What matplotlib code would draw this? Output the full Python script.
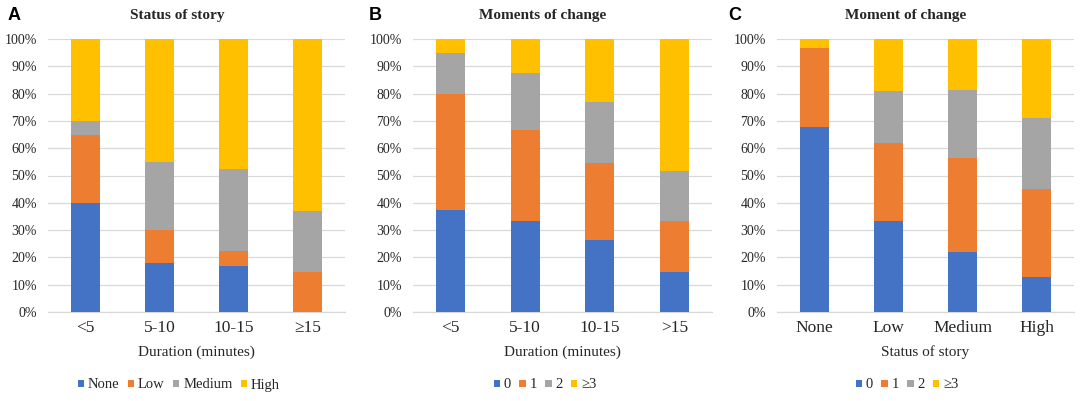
import matplotlib
matplotlib.use("Agg")
import matplotlib.pyplot as plt
from matplotlib.patches import Patch
from matplotlib.ticker import PercentFormatter
import numpy as np

plt.rcParams['font.family'] = ['Liberation Serif', 'DejaVu Serif']

# Panel A: Status of story by duration
a_cats = ["<5", "5-10", "10-15", "\u226515"]
a_series = ["None", "Low", "Medium", "High"]
a_none = [40, 18, 17, 0]
a_low = [25, 12, 5.5, 14.5]
a_medium = [5, 25, 30, 22.5]
a_high = [30, 45, 47.5, 63]

# Panel B: Moments of change by duration
b_cats = ["<5", "5-10", "10-15", ">15"]
b_series = ["0", "1", "2", "\u22653"]
b_0 = [37.5, 33.3, 26.5, 14.5]
b_1 = [42.5, 33.3, 28.0, 18.8]
b_2 = [15.0, 21.1, 22.5, 18.5]
b_3 = [5.0, 12.3, 23.0, 48.2]

# Panel C: Moment of change by status of story
c_cats = ["None", "Low", "Medium", "High"]
c_series = ["0", "1", "2", "\u22653"]
c_0 = [67.8, 33.3, 21.9, 12.9]
c_1 = [29.0, 28.6, 34.4, 32.0]
c_2 = [0.0, 19.0, 25.0, 26.0]
c_3 = [3.2, 19.1, 18.7, 29.1]

colors = ["#4472C4", "#ED7D31", "#A5A5A5", "#FFC000"]

fig = plt.figure(figsize=(10.84, 4.01), dpi=100)

panels = [
    dict(left=48, right=345, cats=a_cats, series=a_series, data=[a_none, a_low, a_medium, a_high],
         title="Status of story", xlabel="Duration (minutes)", letter="A", lx=8, cx=177, lgx=179),
    dict(left=413, right=712, cats=b_cats, series=b_series, data=[b_0, b_1, b_2, b_3],
         title="Moments of change", xlabel="Duration (minutes)", letter="B", lx=369, cx=543, lgx=545),
    dict(left=777, right=1074, cats=c_cats, series=c_series, data=[c_0, c_1, c_2, c_3],
         title="Moment of change", xlabel="Status of story", letter="C", lx=728, cx=906, lgx=907),
]

W, H = 1084, 401
top_px, bot_px = 39, 312

for p in panels:
    ax = fig.add_axes([p['left'] / W, 1 - bot_px / H, (p['right'] - p['left']) / W, (bot_px - top_px) / H])
    x = np.arange(len(p['cats']))
    bottom = np.zeros(len(p['cats']))
    handles = []
    for vals, name, col in zip(p['data'], p['series'], colors):
        v = np.array(vals, dtype=float)
        ax.bar(x, v, width=0.39, bottom=bottom, color=col, zorder=3)
        bottom += v
        handles.append(Patch(facecolor=col, label=name))
    ax.set_ylim(0, 100)
    ax.set_xlim(-0.5, len(p['cats']) - 0.5)
    ax.set_yticks(np.arange(0, 101, 10))
    ax.yaxis.set_major_formatter(PercentFormatter(decimals=0))
    ax.grid(axis='y', color='#D9D9D9', linewidth=0.9, zorder=0)
    for s in ['top', 'right', 'left']:
        ax.spines[s].set_visible(False)
    ax.spines['bottom'].set_color('#D9D9D9')
    ax.spines['bottom'].set_linewidth(0.9)
    ax.tick_params(axis='both', length=0, colors='#262626')
    ax.tick_params(axis='y', labelsize=10, pad=8)
    ax.tick_params(axis='x', labelsize=12.5, pad=6)
    ax.set_xticks(x)
    ax.set_xticklabels(p['cats'])
    axc = (p['left'] + p['right']) / 2
    fig.text(axc / W, 1 - 352 / H, p['xlabel'], ha='center', va='center', fontsize=11, color='#262626')
    fig.text(p['cx'] / W, 1 - 16 / H, p['title'], ha='center', va='center', fontsize=11, fontweight='bold', color='#262626')
    fig.text(p['lx'] / W, 1 - 15 / H, p['letter'], ha='left', va='center', fontsize=13, fontweight='bold',
             family=['Liberation Sans', 'DejaVu Sans'])
    fig.legend(handles=handles, loc='center', bbox_to_anchor=(p['lgx'] / W, 1 - 385 / H), ncol=4, frameon=False,
               fontsize=10.5, handlelength=0.42, handleheight=0.42, handletextpad=0.25, columnspacing=0.6,
               labelcolor='#262626')

fig.savefig("out.png", dpi=100)
